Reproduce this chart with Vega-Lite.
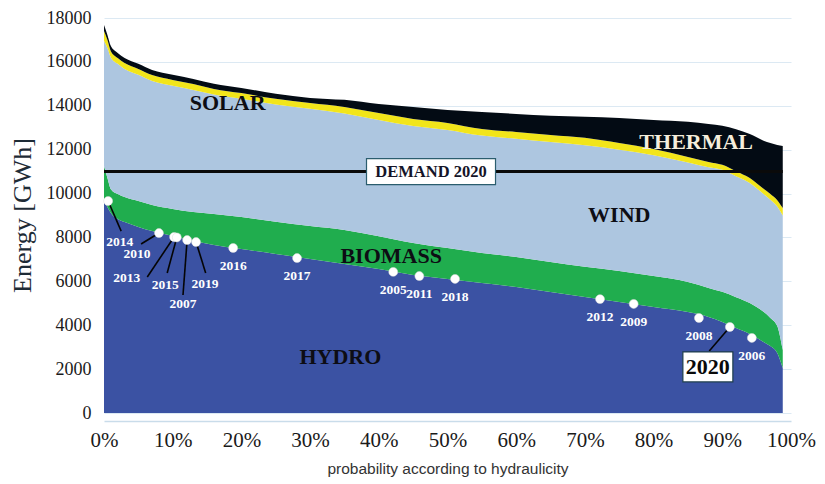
{
  "$schema": "https://vega.github.io/schema/vega-lite/v6.json",
  "autosize": {"type": "none"},
  "width": 687,
  "height": 395,
  "padding": {"left": 104, "top": 18, "right": 34, "bottom": 71},
  "background": "white",
  "config": {
    "view": {"stroke": null},
    "text": {"font": "Liberation Serif", "fontWeight": "bold", "align": "center", "baseline": "middle"}
  },
  "datasets": {
    "energy": [
      {"p": 0, "Hydro": 9710, "Biomass": 1550, "Wind": 5700, "Solar": 450, "Thermal": 270},
      {"p": 0.5, "Hydro": 9390, "Biomass": 1320, "Wind": 5920, "Solar": 370, "Thermal": 230},
      {"p": 1, "Hydro": 9110, "Biomass": 1090, "Wind": 6000, "Solar": 290, "Thermal": 230},
      {"p": 2, "Hydro": 8840, "Biomass": 1140, "Wind": 5930, "Solar": 270, "Thermal": 230},
      {"p": 3, "Hydro": 8700, "Biomass": 1140, "Wind": 5840, "Solar": 270, "Thermal": 230},
      {"p": 5, "Hydro": 8480, "Biomass": 1180, "Wind": 5750, "Solar": 270, "Thermal": 230},
      {"p": 7, "Hydro": 8290, "Biomass": 1190, "Wind": 5650, "Solar": 270, "Thermal": 230},
      {"p": 10, "Hydro": 8070, "Biomass": 1230, "Wind": 5610, "Solar": 270, "Thermal": 230},
      {"p": 13, "Hydro": 7840, "Biomass": 1320, "Wind": 5560, "Solar": 270, "Thermal": 230},
      {"p": 16, "Hydro": 7660, "Biomass": 1410, "Wind": 5440, "Solar": 260, "Thermal": 230},
      {"p": 20, "Hydro": 7470, "Biomass": 1460, "Wind": 5390, "Solar": 260, "Thermal": 230},
      {"p": 25, "Hydro": 7250, "Biomass": 1460, "Wind": 5350, "Solar": 260, "Thermal": 230},
      {"p": 30, "Hydro": 7020, "Biomass": 1500, "Wind": 5350, "Solar": 260, "Thermal": 230},
      {"p": 35, "Hydro": 6790, "Biomass": 1550, "Wind": 5310, "Solar": 300, "Thermal": 320},
      {"p": 40, "Hydro": 6560, "Biomass": 1500, "Wind": 5290, "Solar": 320, "Thermal": 410},
      {"p": 45, "Hydro": 6290, "Biomass": 1460, "Wind": 5330, "Solar": 320, "Thermal": 550},
      {"p": 50, "Hydro": 6110, "Biomass": 1410, "Wind": 5380, "Solar": 320, "Thermal": 590},
      {"p": 55, "Hydro": 5920, "Biomass": 1370, "Wind": 5350, "Solar": 300, "Thermal": 780},
      {"p": 60, "Hydro": 5740, "Biomass": 1370, "Wind": 5390, "Solar": 310, "Thermal": 820},
      {"p": 65, "Hydro": 5510, "Biomass": 1370, "Wind": 5470, "Solar": 320, "Thermal": 870},
      {"p": 70, "Hydro": 5290, "Biomass": 1370, "Wind": 5540, "Solar": 340, "Thermal": 960},
      {"p": 75, "Hydro": 5060, "Biomass": 1410, "Wind": 5530, "Solar": 300, "Thermal": 1140},
      {"p": 80, "Hydro": 4830, "Biomass": 1410, "Wind": 5510, "Solar": 280, "Thermal": 1320},
      {"p": 85, "Hydro": 4600, "Biomass": 1370, "Wind": 5450, "Solar": 250, "Thermal": 1600},
      {"p": 88, "Hydro": 4380, "Biomass": 1320, "Wind": 5500, "Solar": 240, "Thermal": 1730},
      {"p": 90, "Hydro": 4150, "Biomass": 1370, "Wind": 5560, "Solar": 230, "Thermal": 1780},
      {"p": 92, "Hydro": 3870, "Biomass": 1410, "Wind": 5510, "Solar": 230, "Thermal": 1910},
      {"p": 94, "Hydro": 3600, "Biomass": 1410, "Wind": 5470, "Solar": 230, "Thermal": 2000},
      {"p": 96, "Hydro": 3240, "Biomass": 1370, "Wind": 5370, "Solar": 240, "Thermal": 2190},
      {"p": 97, "Hydro": 3050, "Biomass": 1280, "Wind": 5390, "Solar": 260, "Thermal": 2320},
      {"p": 98, "Hydro": 2730, "Biomass": 1230, "Wind": 5450, "Solar": 290, "Thermal": 2510},
      {"p": 98.8, "Hydro": 2050, "Biomass": 820, "Wind": 6130, "Solar": 340, "Thermal": 2830}
    ],
    "sources": [
      {"src": "Hydro", "rank": 1},
      {"src": "Biomass", "rank": 2},
      {"src": "Wind", "rank": 3},
      {"src": "Solar", "rank": 4},
      {"src": "Thermal", "rank": 5}
    ],
    "demand": [
      {"label": "DEMAND 2020", "from": 0, "to": 98.8, "gwh": 11000, "labelAt": 47.6}
    ],
    "years": [
      {"year": "2014", "p": 0.6, "gwh": 9660, "ep": 2.5, "ev": 8290, "lp": 2.3, "lv": 7790},
      {"year": "2010", "p": 8.0, "gwh": 8200, "ep": 5.4, "ev": 7700, "lp": 4.8, "lv": 7250},
      {"year": "2013", "p": 10.2, "gwh": 8020, "ep": 6.3, "ev": 6200, "lp": 3.3, "lv": 6150},
      {"year": "2015", "p": 10.6, "gwh": 8000, "ep": 9.2, "ev": 6380, "lp": 8.9, "lv": 5830},
      {"year": "2007", "p": 12.1, "gwh": 7880, "ep": 11.5, "ev": 5380, "lp": 11.5, "lv": 4970},
      {"year": "2019", "p": 13.4, "gwh": 7790, "ep": 14.8, "ev": 6380, "lp": 14.7, "lv": 5880},
      {"year": "2016", "p": 18.8, "gwh": 7520},
      {"year": "2017", "p": 28.1, "gwh": 7060},
      {"year": "2005", "p": 42.1, "gwh": 6430},
      {"year": "2011", "p": 45.9, "gwh": 6240},
      {"year": "2018", "p": 51.1, "gwh": 6110},
      {"year": "2012", "p": 72.2, "gwh": 5190},
      {"year": "2009", "p": 77.1, "gwh": 4970},
      {"year": "2008", "p": 86.6, "gwh": 4330},
      {"year": "2020", "p": 91.1, "gwh": 3920, "ep": 88.1, "ev": 2830, "lp": 87.9, "lv": 2100},
      {"year": "2006", "p": 94.3, "gwh": 3420}
    ],
    "names": [
      {"name": "SOLAR", "p": 18.0, "gwh": 14130},
      {"name": "THERMAL", "p": 86.2, "gwh": 12350},
      {"name": "WIND", "p": 75.0, "gwh": 9020},
      {"name": "BIOMASS", "p": 41.8, "gwh": 7150},
      {"name": "HYDRO", "p": 34.4, "gwh": 2550}
    ]
  },
  "layer": [
    {
      "data": {"name": "energy"},
      "transform": [
        {"fold": ["Hydro", "Biomass", "Wind", "Solar", "Thermal"], "as": ["src", "gwh"]},
        {"lookup": "src", "from": {"data": {"name": "sources"}, "key": "src", "fields": ["rank"]}}
      ],
      "mark": {"type": "area", "interpolate": "monotone"},
      "encoding": {
        "x": {
          "field": "p", "type": "quantitative",
          "scale": {"domain": [0, 100], "nice": false},
          "axis": {
            "values": [0, 10, 20, 30, 40, 50, 60, 70, 80, 90, 100],
            "labelExpr": "datum.value + '%'",
            "labelFont": "Liberation Serif", "labelFontSize": 21, "labelColor": "#1a1a1a",
            "labelPadding": 8, "labelBaseline": "top", "labelFlush": false, "labelAlign": "center",
            "labelOverlap": false,
            "ticks": false, "grid": false, "offset": 8,
            "domainColor": "#c9dcea", "domainWidth": 1.5,
            "title": "probability according to hydraulicity",
            "titleFont": "Liberation Sans", "titleFontSize": 15.5, "titleFontWeight": "normal",
            "titleColor": "#333333", "titleY": 47, "titleBaseline": "middle"
          }
        },
        "y": {
          "field": "gwh", "type": "quantitative", "stack": "zero",
          "scale": {"domain": [0, 18000], "nice": false},
          "axis": {
            "values": [0, 2000, 4000, 6000, 8000, 10000, 12000, 14000, 16000, 18000],
            "format": "d",
            "labelFont": "Liberation Serif", "labelFontSize": 18, "labelColor": "#1a1a1a",
            "labelPadding": 13, "ticks": false, "domain": false,
            "gridColor": "#dce9f3", "gridWidth": 1,
            "title": "Energy [GWh]",
            "titleFont": "Liberation Serif", "titleFontSize": 26, "titleFontWeight": "normal",
            "titleColor": "#1e2b36", "titleX": -82, "titleY": 197,
            "titleAlign": "center", "titleBaseline": "middle", "titleAngle": -90
          }
        },
        "color": {
          "field": "src", "type": "nominal", "legend": null,
          "scale": {
            "domain": ["Hydro", "Biomass", "Wind", "Solar", "Thermal"],
            "range": ["#3b52a3", "#20ad4e", "#adc6e0", "#f2e51a", "#030b14"]
          }
        },
        "order": {"field": "rank", "type": "quantitative"}
      }
    },
    {
      "data": {"name": "demand"},
      "mark": {"type": "rule", "color": "#0a0a0a", "strokeWidth": 3},
      "encoding": {
        "x": {"field": "from", "type": "quantitative"},
        "x2": {"field": "to"},
        "y": {"field": "gwh", "type": "quantitative"}
      }
    },
    {
      "data": {"name": "demand"},
      "mark": {"type": "rect", "width": 129, "height": 26, "fill": "white", "stroke": "#2b5d6e", "strokeWidth": 1.2},
      "encoding": {
        "x": {"field": "labelAt", "type": "quantitative"},
        "y": {"field": "gwh", "type": "quantitative"}
      }
    },
    {
      "data": {"name": "demand"},
      "mark": {"type": "text", "fontSize": 16.5, "color": "#141428"},
      "encoding": {
        "x": {"field": "labelAt", "type": "quantitative"},
        "y": {"field": "gwh", "type": "quantitative"},
        "text": {"field": "label"}
      }
    },
    {
      "data": {"name": "years"},
      "transform": [{"filter": "isValid(datum.ep)"}],
      "mark": {"type": "rule", "color": "#050505", "strokeWidth": 1.6},
      "encoding": {
        "x": {"field": "p", "type": "quantitative"},
        "y": {"field": "gwh", "type": "quantitative"},
        "x2": {"field": "ep"},
        "y2": {"field": "ev"}
      }
    },
    {
      "data": {"name": "years"},
      "mark": {"type": "point", "filled": true, "size": 80, "color": "white", "opacity": 1, "stroke": "#dddddd", "strokeWidth": 0.5},
      "encoding": {
        "x": {"field": "p", "type": "quantitative"},
        "y": {"field": "gwh", "type": "quantitative"}
      }
    },
    {
      "data": {"name": "years"},
      "transform": [{"filter": "!isValid(datum.lp)"}],
      "mark": {"type": "text", "fontSize": 13.5, "color": "white", "dy": 18},
      "encoding": {
        "x": {"field": "p", "type": "quantitative"},
        "y": {"field": "gwh", "type": "quantitative"},
        "text": {"field": "year"}
      }
    },
    {
      "data": {"name": "years"},
      "transform": [{"filter": "isValid(datum.lp) && datum.year != '2020'"}],
      "mark": {"type": "text", "fontSize": 13.5, "color": "white"},
      "encoding": {
        "x": {"field": "lp", "type": "quantitative"},
        "y": {"field": "lv", "type": "quantitative"},
        "text": {"field": "year"}
      }
    },
    {
      "data": {"name": "years"},
      "transform": [{"filter": "datum.year == '2020'"}],
      "mark": {"type": "rect", "width": 50, "height": 30, "fill": "white", "stroke": "#1f3e4c", "strokeWidth": 1.2},
      "encoding": {
        "x": {"field": "lp", "type": "quantitative"},
        "y": {"field": "lv", "type": "quantitative"}
      }
    },
    {
      "data": {"name": "years"},
      "transform": [{"filter": "datum.year == '2020'"}],
      "mark": {"type": "text", "fontSize": 22, "color": "#0a0a0a"},
      "encoding": {
        "x": {"field": "lp", "type": "quantitative"},
        "y": {"field": "lv", "type": "quantitative"},
        "text": {"field": "year"}
      }
    },
    {
      "data": {"name": "names"},
      "mark": {"type": "text", "fontSize": 22},
      "encoding": {
        "x": {"field": "p", "type": "quantitative"},
        "y": {"field": "gwh", "type": "quantitative"},
        "text": {"field": "name"},
        "color": {
          "condition": {"test": "datum.name == 'THERMAL'", "value": "#f5eedc"},
          "value": "#0d0d14"
        }
      }
    }
  ]
}
